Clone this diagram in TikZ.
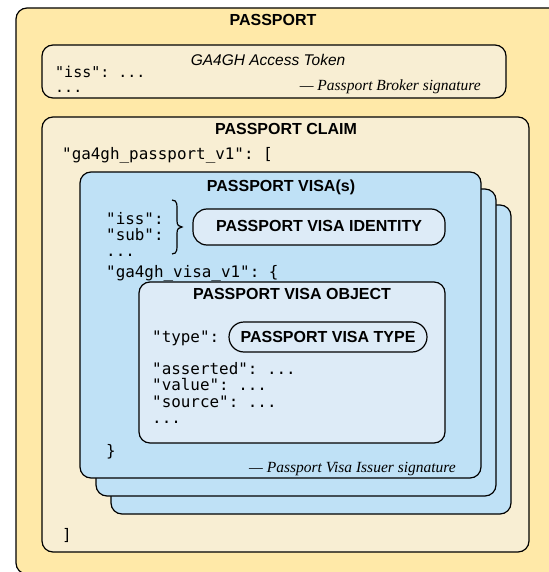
\documentclass[tikz,border=0pt]{standalone}
\usepackage{fontspec}
\setmainfont{Liberation Serif}
\setsansfont{Liberation Sans}
\setmonofont{DejaVu Sans Mono}
\definecolor{passyellow}{HTML}{FFE9A8}
\definecolor{claimcream}{HTML}{F8EED3}
\definecolor{visablue}{HTML}{BFE1F6}
\definecolor{objblue}{HTML}{DDEBF7}
\tikzset{
	box/.style={draw=black, line width=1.2pt, rounded corners=11pt},
	pill/.style={draw=black, line width=1.2pt, rounded corners=15pt},
	heading/.style={font=\sffamily\bfseries\fontsize{16}{16}\selectfont, inner sep=0pt},
	code/.style={font=\ttfamily\fontsize{15.9}{15.9}\selectfont, anchor=base west, inner sep=0pt},
	sig/.style={font=\rmfamily\itshape\fontsize{15.5}{15.5}\selectfont, anchor=base east, inner sep=0pt}
}

\begin{document}
\begin{tikzpicture}[x=1pt, y=-1pt]
			%%%%% START %%%%%
			\useasboundingbox (0, 0) rectangle (548, 572);
			
			% passport
			\draw[box, fill=passyellow] (16, 8) rectangle (570, 574);
			\node[heading] (passport) at (273, 20) {PASSPORT};
			
			% access token
			\draw[box, fill=claimcream] (42, 45) rectangle (506, 98);
			\node[font=\sffamily\itshape\fontsize{15.5}{15.5}\selectfont, inner sep=0pt] (token) at (268, 60) {GA4GH Access Token};
			\node[code, font=\ttfamily\fontsize{15}{15}\selectfont] (tokeniss) at (55, 78) {"iss": ...};
			\node[code, font=\ttfamily\fontsize{15}{15}\selectfont] (tokenmore) at (55, 93) {...};
			\node[sig] (brokersig) at (481, 91) {--- Passport Broker signature};
			
			% claim
			\draw[box, fill=claimcream] (42, 117) rectangle (529, 552);
			\node[heading] (claim) at (286, 129) {PASSPORT CLAIM};
			\node[code] (claimopen) at (62, 160) {"ga4gh\_passport\_v1": [};
			\node[code] (claimclose) at (62, 540) {]};
			
			% visa stack
			\draw[box, fill=visablue] (111, 205) rectangle (511, 514);
			\draw[box, fill=visablue] (96, 189) rectangle (496, 496);
			\draw[box, fill=visablue] (80, 172) rectangle (481, 478);
			\node[heading] (visa) at (281, 187) {PASSPORT VISA(s)};
			\node[code] (visaiss) at (106, 224) {"iss":};
			\node[code] (visasub) at (106, 240) {"sub":};
			\node[code] (visamore) at (106, 256) {...};
			\draw[line width=1.2pt] (172, 200) .. controls (178, 200) and (177, 206) .. (177, 213)
				-- (177, 221) .. controls (177, 225) and (179, 227) .. (182, 227)
				.. controls (179, 227) and (177, 229) .. (177, 233)
				-- (177, 241) .. controls (177, 248) and (178, 254) .. (172, 254);
			\draw[pill, rounded corners=14pt, fill=objblue] (193, 209) rectangle (445, 245);
			\node[heading] (identity) at (319, 226) {PASSPORT VISA IDENTITY};
			\node[code] (visaopen) at (106, 277) {"ga4gh\_visa\_v1": \{};
			\node[code] (visaclose) at (106, 456) {\}};
			\node[sig] (issuersig) at (456, 472) {--- Passport Visa Issuer signature};
			
			% visa object
			\draw[box, fill=objblue] (139, 282) rectangle (445, 443);
			\node[heading] (object) at (292, 294) {PASSPORT VISA OBJECT};
			\node[code] (objtype) at (152, 342) {"type":};
			\draw[pill, fill=objblue] (229, 322) rectangle (427, 352);
			\node[heading] (visatype) at (328, 337) {PASSPORT VISA TYPE};
			\node[code] (objasserted) at (152, 374) {"asserted": ...};
			\node[code] (objvalue) at (152, 390.5) {"value": ...};
			\node[code] (objsource) at (152, 407) {"source": ...};
			\node[code] (objmore) at (152, 423.5) {...};
			
			%%%%% END %%%%%
		\end{tikzpicture}
\end{document}
